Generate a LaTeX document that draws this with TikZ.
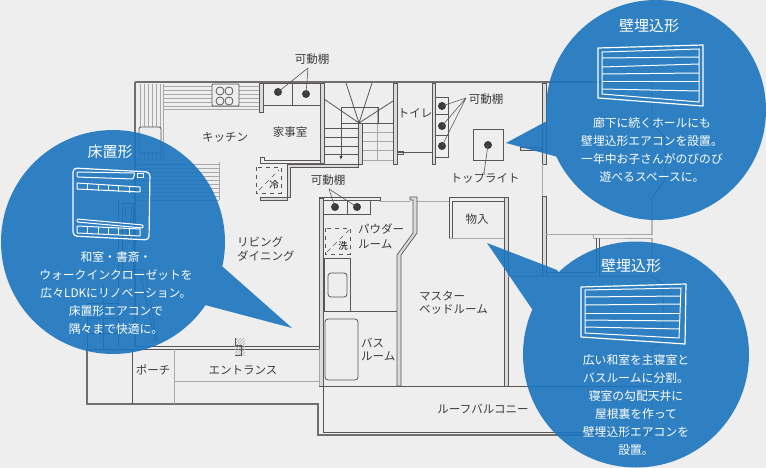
\documentclass[tikz,border=0pt]{standalone}
\usepackage{fontspec}
\setmainfont{Noto Sans CJK JP}
\usetikzlibrary{positioning,calc,patterns}
\definecolor{planbg}{HTML}{EEEEEE}
\definecolor{planline}{HTML}{5A5555}
\definecolor{planfill}{HTML}{B8B6B6}
\definecolor{planstripe}{HTML}{A9A7A7}
\definecolor{planink}{HTML}{3C3C3C}
\definecolor{bubbleblue}{HTML}{1A75BE}
\tikzset{
  line/.style={draw=planline,line width=0.8pt},
  thickline/.style={draw=planline!85,line width=1.7pt},
  grayline/.style={draw=planstripe,line width=0.9pt},
  wallbox/.style={draw=planline,fill=planfill!50,line width=0.7pt},
  stripe/.style={draw=planstripe,line width=0.8pt},
  dashbox/.style={draw=planline,line width=0.8pt,dash pattern=on 4pt off 4pt},
  shelfdot/.style={circle,fill=planink,inner sep=0pt,minimum size=8pt},
  leader/.style={draw=planline,line width=0.6pt},
  room/.style={font=\fontsize{11.5}{14}\selectfont,text=planink,inner sep=0pt,align=center},
  roomleft/.style={room,align=left,anchor=west},
  fixture/.style={font=\fontsize{9.5}{10}\selectfont,text=black,inner sep=0pt},
  bubble/.style={fill=bubbleblue,fill opacity=0.9},
  title/.style={font=\fontsize{15}{18}\selectfont,text=white,inner sep=0pt},
  body/.style={font=\fontsize{11.8}{18}\selectfont,text=white,inner sep=0pt,align=center},
  unit/.style={draw=white,line width=1.2pt,line join=round},
  slat/.style={draw=white,line width=1pt},
}
\begin{document}
\begin{tikzpicture}[x=1pt,y=-1pt]
  \fill[planbg] (0,0) rectangle (766,468);
  \useasboundingbox (0,0) rectangle (766,468);

  % kitchen
  \foreach \ypos in {86,90,94,98,102,106} \draw[stripe] (163,\ypos) -- (259,\ypos);
  \foreach \xpos in {140,144,148,152,156,160} \draw[stripe] (\xpos,84) -- (\xpos,162);
  \foreach \ypos in {164,168,172,176,180,184,188,192,196,200} \draw[stripe] (137,\ypos) -- (219,\ypos);
  \draw[stripe] (219,162) -- (219,200) (163,84) -- (163,162) (163,109) -- (259,109);
  \draw[line,fill=planbg,rounded corners=2pt] (139,127) rectangle (161,153);
  \draw[line,fill=planbg,rounded corners=1pt] (212,84) rectangle (239,106);
  \foreach \xpos in {220,229} \foreach \ypos in {91,101} \draw[line] (\xpos,\ypos) circle (4);
  \draw[wallbox] (259,83) rectangle (263,112);
  \draw[line] (263,83) rectangle (320,105) (292,83) -- (292,105);
  \draw[wallbox] (320,83) rectangle (324,163);
  \draw[line] (260,157) -- (260,163) -- (320,163) (260,157) -- (264,157) -- (264,160) -- (320,160);
  \draw[wallbox] (287,200) -- (287,164) -- (358,164) -- (358,167) -- (290,167) -- (290,197) -- (260,197) -- (260,200) -- cycle;
  \draw[dashbox] (256,167) rectangle (281,193);
  \draw[draw=planline,line width=0.6pt,dash pattern=on 5pt off 4pt] (259,190) -- (279,170);

  % stairs
  \foreach \ypos in {128,137,146,154} \draw[line] (324,\ypos) -- (358,\ypos);
  \foreach \ypos in {132,141,150} \draw[grayline] (362,\ypos) -- (393,\ypos);
  \draw[grayline] (362,160) -- (393,160) (377,107) -- (377,160);
  \draw[line] (341,123) -- (341,107) -- (378,107) -- (378,123) (341,123) -- (393,123);
  \draw[line] (341,123) -- (341,158);
  \fill[planink] (339.5,156) -- (342.5,156) -- (341,159.5) -- cycle;
  \draw[wallbox] (358,123) rectangle (362,164);
  \draw[line] (359,123) -- (324,99) (359,123) -- (346,83) (359,123) -- (372,83) (359,123) -- (393,101);

  % toilet and hall
  \draw[wallbox] (393,83) rectangle (397,164);
  \draw[wallbox] (432,83) rectangle (435,164);
  \draw[line] (397,151) -- (403,151) -- (403,154) -- (397,154) (397,152) -- (432,152);
  \draw[line] (435,97) rectangle (448,157) (435,114) -- (448,114) (435,135) -- (448,135);
  \draw[line] (473,129) rectangle (503,160);
  \draw[wallbox] (520,147) rectangle (541,150);
  \draw[wallbox] (542,83) rectangle (546,164);
  \draw[wallbox] (542,196) rectangle (546,276);
  \draw[grayline] (542,164) -- (542,196);

  % wet rooms
  \draw[wallbox] (319,198) rectangle (323,386);
  \draw[line] (319,197) -- (380,197) (380,197) -- (380,200) -- (323,200);
  \draw[line] (323,200) rectangle (370,214) (347,200) -- (347,214);
  \draw[grayline] (380,201) -- (410,201) (417,201) -- (449,201);
  \draw[dashbox] (325,228) rectangle (350,254);
  \draw[draw=planline,line width=0.6pt,dash pattern=on 5pt off 4pt] (327,252) -- (349,230);
  \draw[line] (324,258) rectangle (350,311);
  \draw[line,rounded corners=3pt] (328,273) rectangle (347,297);
  \draw[line] (350,311) -- (397,311);
  \draw[line,rounded corners=3pt] (325,319) rectangle (358,380);
  \draw[wallbox] (410,197) -- (417,197) -- (417,233) -- (401,255) -- (401,386) -- (397,386) -- (397,255) -- (413,233) -- (413,200) -- (410,200) -- cycle;

  % bedroom and closets
  \draw[line] (449,238) -- (449,197) -- (508,197);
  \draw[line] (452,238) -- (452,201) -- (504,201);
  \draw[grayline] (449,238) -- (504,238);
  \draw[wallbox] (504,197) rectangle (508,386);
  \draw[grayline] (508,276) -- (652,276);
  \draw[grayline] (546,234) -- (593,234) (593,234) -- (593,238) -- (599,238) -- (652,238) (593,234) -- (652,234);
  \draw[line] (546,272) -- (596,272) -- (596,238);
  \draw[line] (599,238) -- (599,276);

  % right side and bottom
  \draw[thickline] (135,82) -- (652,82);
  \draw[line] (652,82) -- (652,125) -- (665,137) -- (665,180) -- (652,198) -- (652,235);
  \draw[line] (652,238) -- (652,276) -- (663,284) -- (663,342) -- (652,347) -- (652,434);
  \draw[thickline] (135,82) -- (135,347);
  \draw[line] (135,346) -- (319,346) (87,349) -- (319,349);
  \draw[thickline] (87,349) -- (87,404) -- (318,404) -- (318,435) -- (652,435);
  \draw[line] (323,386) -- (323,432) -- (652,432);
  \draw[line] (319,386) -- (652,386);
  \draw[grayline] (319,349) -- (319,386);
  \draw[line] (132,349) -- (132,404);
  \draw[grayline] (174,349) -- (174,404) (174,381) -- (319,381);
  \fill[pattern=north east lines,pattern color=planstripe] (235,338) rectangle (245,355);
  \draw[line] (235,338) -- (235,345) -- (241,345) -- (241,355) -- (235,355);

  % left stair and shelf under the bubble
  \draw[line] (118,200) -- (118,346) (122,203) rectangle (133,270);
  \draw[line] (125,207) -- (132,207) -- (128.5,240) -- cycle;
  \draw[line] (87,303) -- (87,349) (103,303) -- (103,349) (87,303) -- (118,303) (87,318) -- (118,318) (87,333) -- (118,333);
  \draw[line] (103,285) -- (103,303);
  \draw[line] (135,270) -- (145,270) -- (157,340) -- (150,340) (140,272) -- (155,340);

  % shelves and leaders
  \node[shelfdot] (dotA) at (278,92) {};
  \node[shelfdot] (dotB) at (306,94) {};
  \node[shelfdot] (dotC) at (335,207) {};
  \node[shelfdot] (dotD) at (357,207) {};
  \node[shelfdot] (dotE) at (442,106) {};
  \node[shelfdot] (dotF) at (442,126) {};
  \node[shelfdot] (dotG) at (442,146) {};
  \node[shelfdot] (dotH) at (488,145) {};
  \coordinate (forkA) at (308,68);
  \coordinate (forkC) at (329,189);
  \coordinate (forkE) at (466,98);
  \coordinate (forkH) at (484,173);
  \draw[leader] (forkA) -- (dotA.center) (forkA) -- (dotB.center);
  \draw[leader] (forkC) -- (dotC.center) (forkC) -- (dotD.center);
  \draw[leader] (forkE) -- (dotE.center) (forkE) -- (dotF.center) (forkE) -- (dotG.center);
  \draw[leader] (forkH) -- (dotH.center);

  % room labels
  \node[room] (kitchen) at (225,137) {キッチン};
  \node[room] (utility) at (290,132) {家事室};
  \node[room] (shelfA) at (312,59) {可動棚};
  \node[room] (shelfC) at (328,180) {可動棚};
  \node[room] (shelfE) at (486,99) {可動棚};
  \node[room] (toilet) at (415,113) {トイレ};
  \node[room] (toplight) at (485,178) {トップライト};
  \node[room] (closet) at (477,219) {物入};
  \node[roomleft] (powder) at (358,236) {パウダー\\[1pt]ルーム};
  \node[roomleft] (master) at (419,303) {マスター\\[-1pt]ベッドルーム};
  \node[roomleft] (bath) at (361,349) {バス\\[-1pt]ルーム};
  \node[roomleft] (living) at (237,249) {リビング\\[0pt]ダイニング};
  \node[room] (balcony) at (483,409) {ルーフバルコニー};
  \node[room] (entrance) at (243,370) {エントランス};
  \node[room] (porch) at (153,370) {ポーチ};
  \node[fixture] (fridge) at (274,185) {冷};
  \node[fixture] (washer) at (343,246) {洗};

  % callouts
  \fill[bubble] (113,242) circle (112) (223,267) -- (292,328) -- (205,305) -- (150,260) -- cycle;
  \fill[bubble] (656,110) circle (110) (600,140) -- (558,157) -- (506,143) -- (545,122) -- cycle;
  \fill[bubble] (636,354.5) circle (113) (600,340) -- (532,309) -- (487,243) -- (557,270) -- cycle;

  % floor unit
  \draw[unit,rounded corners=4pt] (73,168) -- (150,172) -- (149,240) -- (73,236) -- cycle;
  \draw[unit,line width=1pt,rounded corners=1pt] (77,172) -- (135,173) -- (133,179) -- (77,177) -- cycle;
  \draw[unit,line width=0.9pt] (137,173) rectangle (143,177);
  \draw[slat,rounded corners=1pt] (77,219) -- (143,225) -- (143,228) -- (77,222) -- cycle;
  \draw[slat] (77,183) -- (140,187) (77,189) -- (140,192) (77,183) -- (77,189) (140,187) -- (140,192);
  \draw[slat] (77,226) -- (140,229) (77,233) -- (140,236) (77,226) -- (77,233) (140,229) -- (140,236);
  \foreach \xpos/\yup in {87/184,98/184.5,108/185,118/186,129/186.5} \draw[slat] (\xpos,\yup) -- (\xpos,\yup+6);
  \foreach \xpos/\yup in {87/226.5,98/227,108/227.5,118/228,129/228.5} \draw[slat] (\xpos,\yup) -- (\xpos,\yup+7);

  % wall units
  \draw[unit] (598,48) -- (703,45) -- (703,106) -- (598,98) -- cycle;
  \draw[slat] (602,52) -- (699,49) -- (699,102) -- (602,94) -- cycle;
  \foreach \yleft/\yright in {58/57,67/64,74/73,82/82,89/91} \draw[slat] (602,\yleft) -- (699,\yright);
  \draw[unit] (581,287) -- (686,284) -- (685,344) -- (581,337) -- cycle;
  \draw[slat] (585,290) -- (681,288) -- (679,338) -- (585,333) -- cycle;
  \foreach \yleft/\yright in {297/296,305/304,313/313,320/321,327/329} \draw[slat] (585,\yleft) -- (680,\yright);

  % callout texts
  \node[title] (floorTitle) at (110,152) {床置形};
  \node[body] (floorBody) at (116,293) {和室・書斎・\\ウォークインクローゼットを\\広々LDKにリノベーション。\\床置形エアコンで\\隅々まで快適に。};
  \node[title] (wallTitleA) at (649,26) {壁埋込形};
  \node[body] (wallBodyA) at (652,150) {廊下に続くホールにも\\壁埋込形エアコンを設置。\\一年中お子さんがのびのび\\遊べるスペースに。};
  \node[title] (wallTitleB) at (631,266) {壁埋込形};
  \node[body] (wallBodyB) at (636,405) {広い和室を主寝室と\\バスルームに分割。\\寝室の勾配天井に\\屋根裏を作って\\壁埋込形エアコンを\\設置。};
\end{tikzpicture}
\end{document}
